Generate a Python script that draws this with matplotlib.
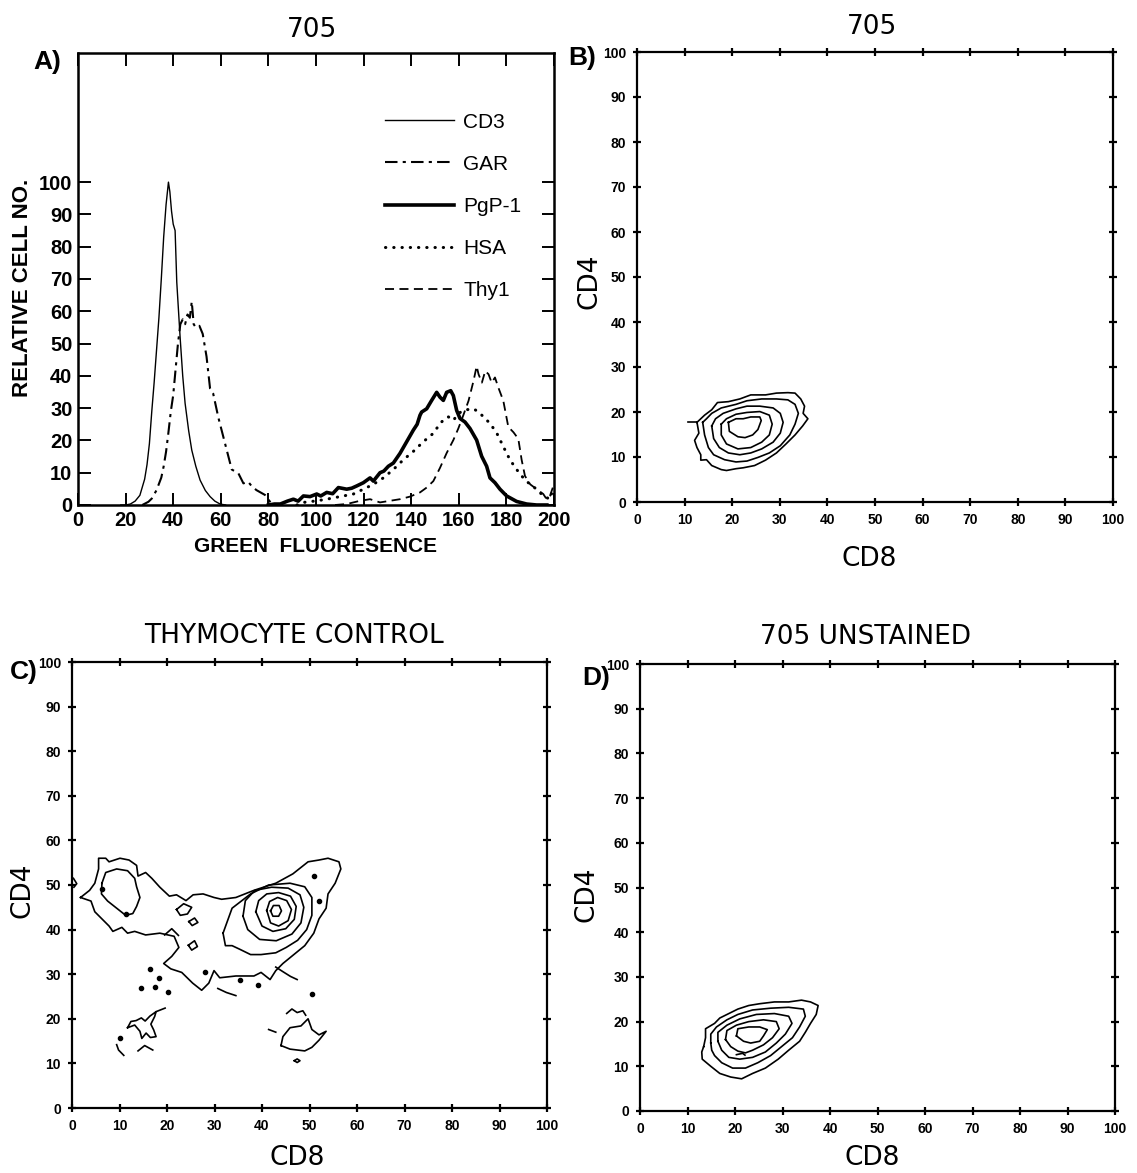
import matplotlib
matplotlib.use("Agg")
import matplotlib.pyplot as plt
from matplotlib import font_manager as fm
import numpy as np

# ---------------- data: panel A histograms ----------------
CD3_x = [18, 20, 22, 24, 26, 28, 29, 30, 31, 32, 33, 34, 35, 36, 37, 38, 38.6, 39.3, 40, 40.8,
         41.5, 42.9, 44, 45, 46.5, 47.8, 49.5, 51.3, 53.5, 55.5, 57.5, 59.7, 62]
CD3_y = [0, 0, 0.3, 1.2, 3, 8, 12.5, 19, 29, 38, 48, 58, 70, 83, 93, 100, 97, 91, 87, 85,
         69, 52, 40, 31.5, 23, 17, 12, 7.7, 4.5, 2.6, 1.2, 0.3, 0]

GAR_x = [27, 29.6, 31, 33, 35, 36, 37, 38, 39, 40, 41, 42, 43, 44, 45, 46, 47, 47.8, 48.6,
         49.5, 51, 52.4, 54, 55.5, 56.8, 59, 61.8, 64.6, 67.4, 69.5, 71.5, 73, 75, 78.6, 80.7, 82]
GAR_y = [0, 1, 2, 4.6, 8.5, 12, 16.5, 22.5, 29, 34, 42, 50, 56, 57.5, 56, 59, 58, 63, 56,
         55, 55.5, 53, 46, 36, 34.5, 27, 19, 11, 9.8, 6.7, 7.2, 5.8, 4.6, 3.1, 1, 0]

PGP1_x = [80, 82.5, 85, 88, 90.5, 92.5, 94.7, 97.5, 100.3, 102, 104.5, 107, 109.4, 112.9, 115,
          117.1, 119.9, 122.7, 124.1, 126.9, 128.5, 130.4, 132.5, 135.3, 138.1, 140.9, 142.5,
          143.7, 144.4, 146.5, 148.6, 150.7, 152.1, 153.5, 154.9, 156.6, 157.7, 159.1, 160.5,
          162.6, 164.7, 167.5, 169.6, 171.7, 173.1, 175.2, 177.3, 180.1, 184.3, 188.5, 192.7, 197]
PGP1_y = [0, 0.3, 0.3, 1.2, 1.8, 1.2, 2.8, 2.6, 3.4, 2.8, 3.9, 3.5, 5.4, 4.9, 5.2,
          5.9, 6.9, 8.4, 7.4, 10, 10.5, 12, 13, 16, 19.6, 23.2, 25,
          27.8, 28.8, 29.8, 32.4, 34.9, 33.4, 32.4, 34.9, 35.4, 33.9, 29.3, 26.8,
          25.7, 23.7, 20.1, 15.1, 12, 8.4, 6.9, 4.9, 2.8, 1.1, 0.3, 0, 0]

HSA_x = [92, 94.7, 100.3, 104.5, 110.1, 115.7, 119.9, 124.1, 128.3, 132.5, 136.7, 140.9, 145.1,
         149.3, 152.1, 154.2, 155.6, 157.7, 159.8, 161.9, 164.1, 166.2, 168.3, 170.4, 173.2,
         176, 178.7, 181.5, 184.3, 187.1, 189.9, 192.7, 195.5, 198.3, 199.5]
HSA_y = [0, 0.8, 1.3, 1.8, 2.6, 3.4, 4.9, 6.4, 8.4, 11, 14, 16.6, 19.6,
         22.2, 25.2, 26.8, 27.3, 26.2, 28.3, 29.3, 29.6, 29.8, 28.8, 27.3, 25.2,
         22.2, 18.1, 14, 11, 8.4, 6.4, 4.9, 2.8, 1.8, 4.9]

THY1_x = [108, 112.9, 118.5, 122.7, 126.9, 131.1, 135.3, 139.5, 143.7, 146.5, 149.3, 152.1,
          154.9, 157.7, 159.8, 161.9, 164.1, 166.2, 167.5, 168.3, 169.7, 171.1, 172.5, 173.8,
          175.2, 176.6, 178.7, 180.8, 183, 185, 186.4, 187.8, 190, 192.7, 195.5, 196.9, 198.3, 199.5]
THY1_y = [0, 0.3, 1.3, 1.8, 0.8, 1.3, 1.8, 2.6, 3.9, 5.4, 7.4, 11.5,
          16.1, 20.1, 23.7, 27.8, 32.3, 38.5, 43, 40.5, 37.9, 41.5, 40.5, 37.9,
          39.5, 36.4, 32.3, 24.2, 22.5, 20.5, 14, 9, 6.4, 4.9, 3.4, 1.8, 2.8, 5.4]

SERIES_NAMES = ["CD3", "GAR", "PgP-1", "HSA", "Thy1"]

A_XTICKS = [0, 20, 40, 60, 80, 100, 120, 140, 160, 180, 200]
A_YTICKS = [0, 10, 20, 30, 40, 50, 60, 70, 80, 90, 100]
GRID_TICKS = [0, 10, 20, 30, 40, 50, 60, 70, 80, 90, 100]

# ---------------- data: contour lines (CD8, CD4) ----------------
B_RING_1 = [(12.6, 17.7), (13, 15.3), (12.1, 13.7), (12.6, 12.1), (13.4, 10.5), (13.4, 9.3),
            (14.6, 9.4), (15.7, 8.1), (17.7, 7.2), (18.8, 7), (20.8, 7.4), (22.3, 7.6), (24.7, 8.1),
            (27, 9.3), (29.3, 10.9), (31.3, 12.9), (33.2, 14.9), (34.8, 16.9), (35.9, 18.5),
            (34.9, 19.7), (35.2, 21.3), (34.4, 22.9), (33.2, 24.2), (31.7, 24.3), (29.3, 24.2),
            (27, 23.8), (23.9, 23.8), (21.6, 22.9), (19.2, 22.3), (16.9, 22.1), (15.7, 20.5),
            (14.2, 19.3), (13, 18.1), (12.6, 17.7)]
B_TAIL = [(10.7, 17.7), (12.6, 17.7)]
B_RING_2 = [(13.8, 17.7), (14.2, 14.9), (15, 12.1), (16.1, 10.5), (18.4, 9.4), (20.8, 8.9),
            (23.1, 9.1), (25.4, 9.9), (27.8, 10.9), (30.1, 12.5), (32.1, 14.9), (33.2, 17.3),
            (33.9, 19.7), (33.2, 21.7), (31.7, 22.7), (29.3, 22.9), (26.2, 22.9), (23.1, 22.5),
            (20.8, 21.7), (17.7, 20.9), (15.7, 19.7), (14.6, 18.5)]
B_RING_3 = [(15.7, 16.9), (16.1, 14.1), (17.3, 12.1), (19.2, 10.9), (21.6, 10.5), (23.9, 10.9),
            (26.2, 11.8), (28.6, 13.3), (30.1, 15.3), (30.7, 17.7), (30.1, 19.7), (28.6, 20.9),
            (25.8, 21.3), (23.1, 21.3), (20.8, 20.7), (18.1, 19.7), (16.5, 18.5)]
B_RING_4 = [(17.7, 17.3), (17.7, 14.9), (18.8, 12.9), (21.2, 11.8), (23.9, 12.1), (26.2, 13.3),
            (27.8, 14.9), (28.4, 17.3), (27.8, 19.3), (25.8, 20.1), (23.1, 19.9), (20.8, 19.5),
            (18.8, 18.5)]
B_RING_5 = [(19.2, 17.7), (19.4, 15.7), (21.2, 14.5), (22.7, 14.3), (24.3, 14.9), (25.4, 16.1),
            (26.1, 18.1), (25.8, 18.9), (23.9, 18.9), (22.3, 18.5), (20.8, 18.5)]

D_RING_1 = [(13.4, 14.4), (13.8, 16.4), (13.8, 18.4), (15.7, 19.6), (16.8, 20.8), (18.7, 21.8),
            (20.6, 22.8), (22.9, 23.6), (25.2, 24), (28.3, 24.4), (31.3, 24.4), (34, 24.8),
            (35.9, 24.4), (37.5, 23.6), (37.1, 21.6), (35.9, 19.6), (34.8, 17.6), (33.6, 15.6),
            (31.3, 13.6), (29.1, 11.6), (26.4, 9.6), (23.7, 8.4), (21.4, 7.2), (19.1, 7.6),
            (16.8, 8.4), (14.9, 10), (13.1, 11.6), (13, 13.2)]
D_RING_2 = [(14.9, 15.2), (14.9, 17.2), (16.1, 18.8), (18.3, 20.4), (20.6, 21.6), (23.7, 22.6),
            (27.5, 23), (31.3, 23.2), (34.4, 22.8), (34.8, 21.2), (33.6, 18.8), (32.1, 16.4),
            (29.8, 14.4), (27.5, 12.4), (24.8, 10.8), (22.2, 9.6), (19.5, 9.6), (17.2, 10.8),
            (15.7, 12.4), (15.1, 13.6)]
D_RING_3 = [(16.4, 15.6), (16.4, 17.6), (18.3, 19.2), (21, 20.6), (24.5, 21.6), (28.3, 21.8),
            (31.3, 21.2), (32, 19.6), (30.6, 17.2), (28.7, 15.2), (26.4, 13.2), (23.7, 12),
            (21, 11.6), (18.7, 12), (17.2, 13.6)]
D_RING_4 = [(18, 16), (18.3, 18), (20.3, 19.2), (22.9, 20), (26, 20.4), (28.7, 20), (29.3, 18.4),
            (27.9, 16.4), (26, 14.8), (23.7, 13.6), (22.2, 13), (20.6, 13.4), (19.1, 14.4)]
D_RING_5 = [(20.3, 16.8), (20.6, 18.4), (22.9, 18.8), (25.2, 18.8), (26.8, 18.2), (26, 16.8),
            (25.2, 15.6), (23.3, 15.2), (21.8, 15.6)]
D_HOOK = [(20.3, 12.6), (21.6, 12.9), (22.1, 12.5)]

C_OUTER = [(1.8, 47.2), (3.7, 48.8), (4.8, 50.4), (5.6, 53.6), (5.6, 56), (7.1, 56), (7.8, 55.2),
           (10.1, 56), (12, 55.6), (13.6, 54.4), (13.9, 52), (15.5, 52.8), (16.8, 51.5),
           (18.5, 49.5), (20.5, 47.5), (22, 47.8), (24, 46.5), (25.5, 47.8), (27.6, 48),
           (29.9, 47.2), (31.5, 46.8), (34.5, 47.2), (38.3, 48.8), (42.9, 50.4), (46.5, 52.5),
           (49.7, 55.2), (52, 55.6), (53.9, 56), (56.2, 55.2), (56.6, 53.6), (55.4, 50.4),
           (53.9, 48), (53.5, 44.8), (52, 42.4), (50.9, 39.2), (49, 36.4), (46.7, 34.4),
           (44.4, 32.4), (42.9, 30.8), (41.7, 28.8), (39.8, 30.4), (38.3, 29.6), (34.5, 29.6),
           (31.1, 29.2), (29.9, 30.8), (28.8, 28), (27.3, 26.4), (25.4, 28), (23.1, 30.4),
           (20.8, 31.2), (19.3, 32.4), (21, 34), (22.5, 36), (21.5, 38.5), (18.5, 39.2),
           (15.5, 38.8), (13.2, 39.6), (11.7, 39.2), (10.5, 40.5), (8.6, 39.6), (7.8, 40.8),
           (6.3, 42.4), (4.8, 44), (4, 46.4), (1.8, 47.2)]
C_LEFT_RING = [(6.3, 50.4), (7.1, 52.8), (9.4, 53.6), (11.7, 53.2), (13.2, 51.5), (13.6, 49.6),
               (14.3, 47.2), (13.6, 45.2), (12.8, 43.6), (11.3, 43.2), (9.4, 44.8), (7.5, 46.4),
               (6.2, 48), (6.3, 50.4)]
C_RIGHT_1 = [(31.8, 39.2), (33.7, 44.8), (37.6, 48), (41.4, 50), (45.9, 50.4), (49, 49.6),
             (50.5, 47.2), (50.5, 43.2), (49.4, 40), (47.5, 37.6), (45.1, 36), (42.9, 34.8),
             (39.8, 34.4), (37.6, 34.4), (35.3, 35.6), (33.7, 36.4), (32.3, 36.4), (31.8, 39.2)]
C_RIGHT_2 = [(36, 43), (36.5, 46.5), (38.5, 48.8), (42, 49.5), (45.5, 49.3), (48, 47.8),
             (48.8, 45), (48.2, 41.5), (46.3, 39), (43, 37.5), (39.5, 37.8), (37, 40), (36, 43)]
C_RIGHT_3 = [(38.7, 44), (39.3, 46.5), (41, 48), (43.5, 48.3), (46, 47.5), (47.2, 45.2),
             (46.8, 42.3), (45, 40.2), (42.3, 39.6), (40, 40.8), (38.7, 44)]
C_RIGHT_4 = [(41, 44.3), (41.6, 46.3), (43.3, 47.2), (45.2, 46.5), (46.2, 44.5), (45.5, 42),
             (43.5, 40.8), (41.8, 41.5), (41, 44.3)]
C_RIGHT_5 = [(41.8, 44.2), (42.4, 45.4), (43.6, 45.4), (44.1, 44.2), (43.5, 43), (42.3, 43),
             (41.8, 44.2)]
C_LL_BLOB = [(11.7, 18), (13.2, 18.6), (14.3, 17.2), (14.7, 15.6), (15.6, 16.8), (16.5, 15.8),
             (17.7, 16), (17.2, 17.5), (16.6, 18.8), (17.4, 20.5), (17.7, 21.6), (16.4, 20.6),
             (15.4, 19.5), (14.6, 20.2), (13.5, 19.6), (12.4, 19.4), (11.7, 18)]
C_LL_LINE = [(17.7, 21.6), (19.6, 22.4)]
C_LL_HOOK = [(9.4, 14.2), (9.8, 13), (10.9, 11.8)]
C_LL_CHEV = [(13.9, 12.8), (15.3, 14), (17, 13)]
C_LR_BLOB = [(44, 14), (44.4, 16), (45.9, 18), (48.2, 18.4), (49.7, 20), (50.5, 17.6), (52, 16.4),
             (53.5, 17.2), (52, 15.2), (50.5, 13.6), (49, 12.8), (45.9, 13.2), (44, 14)]
C_LR_SMALL = [(46.8, 10.6), (47.4, 11.0), (48.0, 10.6), (47.4, 10.2), (46.8, 10.6)]
C_LR_FRAG1 = [(41.4, 17.6), (42.9, 17.0)]
C_LR_FRAG2 = [(45.2, 21.2), (46.3, 22.2), (47.4, 21.4), (48.6, 21.8), (49.2, 20.8)]
C_MID_FRAG1 = [(30.7, 26.8), (32.5, 25.9), (34.5, 25.2)]
C_MID_FRAG2 = [(42.9, 31.6), (44.5, 30.5), (46, 29.5), (47.4, 28.8)]
C_MID_FRAG3 = [(22, 44.5), (23.5, 45.8), (25.2, 45), (24.3, 43.5), (22.8, 43.2), (22, 44.5)]
C_MID_FRAG4 = [(24.6, 41.8), (25.8, 42.6), (26.5, 41.6), (25.3, 40.9), (24.6, 41.8)]
C_MID_FRAG5 = [(24.5, 36.5), (25.8, 37.5), (26.4, 36.2), (25.2, 35.4), (24.5, 36.5)]
C_MID_FRAG6 = [(19.5, 38.8), (21, 40.2), (22.4, 38.7)]
C_EDGE_FRAG = [(0.3, 51.5), (1.0, 50.3), (0.4, 49.5)]
C_DOTS_X = [6.3, 11.3, 16.5, 20.3, 18.4, 14.6, 17.4, 10.1, 28.0, 50.9, 52.0, 50.5, 39.1, 35.4]
C_DOTS_Y = [49.2, 43.4, 31.2, 26.0, 29.2, 27.0, 27.2, 15.6, 30.4, 52.0, 46.4, 25.6, 27.6, 28.6]

# ---------------- style helpers ----------------
names = {f.name for f in fm.fontManager.ttflist}
NARROW = "Liberation Sans Narrow" if "Liberation Sans Narrow" in names else "Liberation Sans"
HELV = "Liberation Sans"
PLOT_FONT = "DejaVu Sans"

W, H = 1137, 1173
fig = plt.figure(figsize=(W / 100, H / 100), dpi=100)


def ax_px(l, t, r, b):
    return fig.add_axes([l / W, 1 - b / H, (r - l) / W, (b - t) / H])


def ftxt(x, y, s, **kw):
    fig.text(x / W, 1 - y / H, s, **kw)


# ---------------- panel A ----------------
axA = ax_px(78, 53, 554, 505)
axA.plot(CD3_x, CD3_y, color="black", lw=1.0, ls="-", label=SERIES_NAMES[0])
axA.plot(GAR_x, GAR_y, color="black", lw=1.5, ls=(0, (6, 2.5, 1.5, 2.5)), label=SERIES_NAMES[1])
axA.plot(PGP1_x, PGP1_y, color="black", lw=2.6, ls="-", label=SERIES_NAMES[2])
axA.plot(HSA_x, HSA_y, color="black", lw=2.2, ls=(0, (0.1, 2.6)), dash_capstyle="round",
         label=SERIES_NAMES[3])
axA.plot(THY1_x, THY1_y, color="black", lw=1.3, ls=(0, (5, 3)), label=SERIES_NAMES[4])
axA.set_xlim(0, 200)
axA.set_ylim(0, 140)
axA.set_xticks(A_XTICKS)
axA.set_yticks(A_YTICKS)
axA.tick_params(direction="in", length=9, width=1.4, top=True, right=True, pad=4)
for lab in axA.get_xticklabels() + axA.get_yticklabels():
    lab.set_fontfamily(NARROW)
    lab.set_fontweight("bold")
    lab.set_fontsize(14.5)
for sp in axA.spines.values():
    sp.set_linewidth(1.8)
leg = axA.legend(loc="upper left", bbox_to_anchor=(0.645, 0.868), frameon=False,
                 handlelength=3.3, handletextpad=0.45, labelspacing=1.11, borderpad=0,
                 borderaxespad=0, prop={"family": NARROW, "size": 15})
axA.set_xlabel("GREEN  FLUORESENCE", fontfamily=HELV, fontweight="bold", fontsize=15,
               labelpad=5)
axA.set_ylabel("RELATIVE CELL NO.", fontfamily=HELV, fontweight="bold", fontsize=16)
axA.yaxis.set_label_coords(-0.095, 0.48)


# ---------------- contour panels ----------------
def setup_grid_axes(ax, xlab_pos, ylab_pos):
    ax.set_xlim(0, 100)
    ax.set_ylim(0, 100)
    ax.set_xticks(GRID_TICKS)
    ax.set_yticks(GRID_TICKS)
    ax.tick_params(direction="inout", length=6, width=1.6, top=True, right=True, pad=5)
    for lab in ax.get_xticklabels() + ax.get_yticklabels():
        lab.set_fontfamily(NARROW)
        lab.set_fontweight("bold")
        lab.set_fontsize(10)
    for sp in ax.spines.values():
        sp.set_linewidth(1.6)
    ax.set_xlabel("CD8", fontfamily=PLOT_FONT, fontsize=19)
    ax.set_ylabel("CD4", fontfamily=PLOT_FONT, fontsize=19)
    ax.xaxis.set_label_coords(*xlab_pos)
    ax.yaxis.set_label_coords(*ylab_pos)


def draw_line(ax, pts, closed=False, lw=1.2):
    xs = [p[0] for p in pts]
    ys = [p[1] for p in pts]
    if closed and pts[0] != pts[-1]:
        xs.append(xs[0])
        ys.append(ys[0])
    ax.plot(xs, ys, color="black", lw=lw, solid_joinstyle="round")


axB = ax_px(637, 52, 1113, 502)
setup_grid_axes(axB, (0.487, -0.097), (-0.073, 0.491))
for ring in [B_RING_1, B_RING_2, B_RING_3, B_RING_4, B_RING_5]:
    draw_line(axB, ring, closed=True)
draw_line(axB, B_TAIL)

axC = ax_px(72, 662, 547, 1108)
setup_grid_axes(axC, (0.474, -0.082), (-0.076, 0.489))
for ring in [C_OUTER, C_LEFT_RING, C_RIGHT_1, C_RIGHT_2, C_RIGHT_3, C_RIGHT_4, C_RIGHT_5,
             C_LL_BLOB, C_LR_BLOB, C_LR_SMALL, C_MID_FRAG3, C_MID_FRAG4, C_MID_FRAG5]:
    draw_line(axC, ring, closed=True)
for frag in [C_LL_LINE, C_LL_HOOK, C_LL_CHEV, C_LR_FRAG1, C_LR_FRAG2, C_MID_FRAG1,
             C_MID_FRAG2, C_MID_FRAG6, C_EDGE_FRAG]:
    draw_line(axC, frag)
axC.plot(C_DOTS_X, C_DOTS_Y, "o", color="black", ms=3)

axD = ax_px(640, 664, 1115, 1111)
setup_grid_axes(axD, (0.488, -0.076), (-0.086, 0.485))
for ring in [D_RING_1, D_RING_2, D_RING_3, D_RING_4, D_RING_5]:
    draw_line(axD, ring, closed=True)
draw_line(axD, D_HOOK)

# ---------------- titles & panel letters ----------------
title_kw = dict(fontfamily=PLOT_FONT, fontsize=19, ha="center", va="center")
ftxt(312, 30, "705", **title_kw)
ftxt(872, 27, "705", **title_kw)
ftxt(294, 636, "THYMOCYTE CONTROL", **title_kw)
ftxt(866, 637, "705 UNSTAINED", **title_kw)
letter_kw = dict(fontfamily=HELV, fontweight="bold", fontsize=19, ha="center", va="center")
ftxt(47, 62, "A)", **letter_kw)
ftxt(582, 58, "B)", **letter_kw)
ftxt(24, 672, "C)", **letter_kw)
ftxt(596, 678, "D)", **letter_kw)

fig.savefig("out.png", dpi=100)
